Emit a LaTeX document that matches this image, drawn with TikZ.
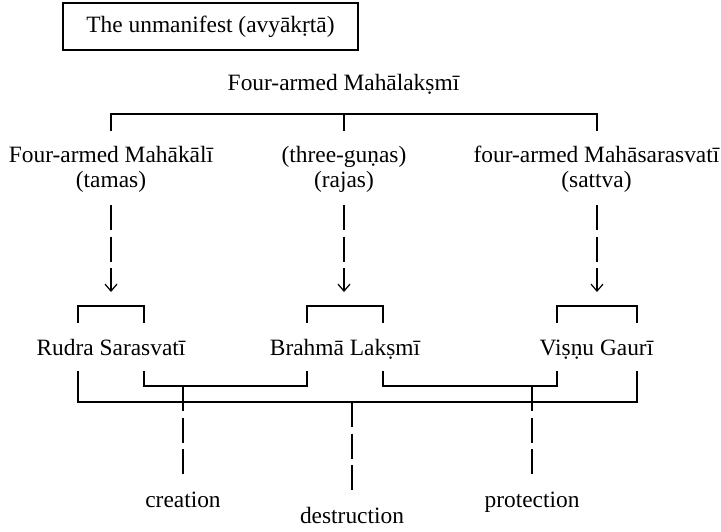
\documentclass[tikz,border=0pt]{standalone}
\usepackage{fontspec}
\setmainfont{Liberation Serif}
\usetikzlibrary{arrows.meta}
\begin{document}
\begin{tikzpicture}[x=1pt,y=-1pt,
  lbl/.style={font=\fontsize{23.4}{28}\selectfont, inner sep=0pt, anchor=base},
  ln/.style={line width=1.2pt},
  dsh/.style={line width=1.2pt, dash pattern=on 25pt off 6.5pt},
  dar/.style={dsh, -{Straight Barb[length=7pt,width=12pt,line width=1.2pt]}}]
\useasboundingbox (0,0) rectangle (721,531);
% texts
\node[lbl, draw, line width=1.2pt, minimum width=295pt, minimum height=47pt, anchor=center] (unm) at (210.5,26.5) {The unmanifest (avyākṛtā)};
\node[lbl] (laksmi) at (343.5,90) {Four-armed Mahālakṣmī};
\node[lbl] (kali) at (111,162) {Four-armed Mahākālī};
\node[lbl] (tamas) at (111,187) {(tamas)};
\node[lbl] (gunas) at (344,162) {(three-guṇas)};
\node[lbl] (rajas) at (344,187) {(rajas)};
\node[lbl] (sarasvati) at (596.5,162) {four-armed Mahāsarasvatī};
\node[lbl] (sattva) at (596.5,187) {(sattva)};
\node[lbl] (rudra) at (111,355) {Rudra Sarasvatī};
\node[lbl] (brahma) at (345,355) {Brahmā Lakṣmī};
\node[lbl] (visnu) at (596.5,355) {Viṣṇu Gaurī};
\node[lbl] (creation) at (183,507) {creation};
\node[lbl] (destruction) at (352,523) {destruction};
\node[lbl] (protection) at (532,507) {protection};
% top bracket
\coordinate (tL) at (111,131); \coordinate (tLc) at (111,114);
\coordinate (tR) at (597,131); \coordinate (tRc) at (597,114);
\coordinate (tM) at (344,131); \coordinate (tMc) at (344,114);
\draw[ln] (tL) -- (tLc) -- (tRc) -- (tR);
\draw[ln] (tMc) -- (tM);
% dashed arrows
\coordinate (a1) at (111,205); \coordinate (b1) at (111,292);
\coordinate (a2) at (344,205); \coordinate (b2) at (344,292);
\coordinate (a3) at (597,205); \coordinate (b3) at (597,292);
\draw[dar] (a1) -- (b1);
\draw[dar] (a2) -- (b2);
\draw[dar] (a3) -- (b3);
% small brackets above names
\draw[ln] (78,323) coordinate (s1a) -- (78,306) -- (144,306) -- (144,323) coordinate (s1b);
\draw[ln] (307,323) coordinate (s2a) -- (307,306) -- (383,306) -- (383,323) coordinate (s2b);
\draw[ln] (557,323) coordinate (s3a) -- (557,306) -- (637,306) -- (637,323) coordinate (s3b);
% lower brackets
\draw[ln] (78,371) coordinate (o1) -- (78,402) -- (637,402) -- (637,371) coordinate (o2);
\draw[ln] (144,371) coordinate (i1) -- (144,386) -- (307,386) -- (307,371) coordinate (i2);
\draw[ln] (383,371) coordinate (j1) -- (383,386) -- (557,386) -- (557,371) coordinate (j2);
% stems
\coordinate (c1) at (183,386); \coordinate (c2) at (183,477);
\coordinate (d1) at (352,402); \coordinate (d2) at (352,493);
\coordinate (p1) at (532,386); \coordinate (p2) at (532,477);
\draw[dsh] (c1) -- (c2);
\draw[dsh] (d1) -- (d2);
\draw[dsh] (p1) -- (p2);
\end{tikzpicture}
\end{document}
